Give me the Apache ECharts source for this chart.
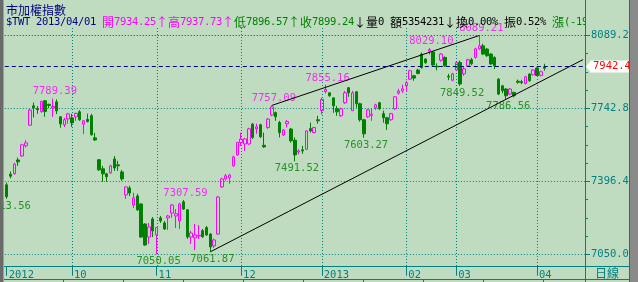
<!DOCTYPE html>
<html><head><meta charset="utf-8">
<script src="https://cdn.jsdelivr.net/npm/echarts@6/dist/echarts.min.js"></script>
<style>html,body{margin:0;padding:0;background:#c0dcc0}#c{width:638px;height:282px}</style>
</head><body><div id="c"></div>
<script>
// ---- data ----
const monthLabels = ['2012','10','11','12','2013','02','03','04'];
const monthStarts = [0,17,39,61,82,104,117,138];
const slotCount = 151;
const yTicks = [7050.0, 7396.4, 7742.8, 8089.2];
// [open, close, low, high]
const candles = [
[7380,7323,7313.56,7391],[7430,7421,7411,7443],[7433,7478,7428,7485],[7498,7489,7470,7509],
[7517,7570,7513,7575],[7565,7579,7557,7592],[7663,7735,7660,7741],[7755,7746,7700,7771],
[7742,7737,7717,7755],[7728,7776,7722,7780],[7779,7728,7703,7783],[7762,7757,7744,7766],
[7745,7752,7703,7789.39],[7774,7731,7716,7786],[7703,7669,7651,7706],[7665,7689,7655,7698],
[7693,7717,7670,7722],
[7698,7674,7655,7717],[7703,7719,7684,7723],[7727,7689,7684,7735],[7668,7684,7621,7688],
[7691,7681,7676,7718],[7708,7618,7613,7717],[7603,7593,7589,7627],[7499,7451,7446,7503],
[7456,7432,7394,7470],[7432,7418,7394,7437],[7437,7470,7432,7475],[7503,7460,7446,7517],
[7475,7470,7446,7494],[7441,7408,7399,7451],[7332,7370,7313,7372],[7365,7341,7327,7375],
[7284,7318,7270,7342],[7327,7261,7256,7337],[7289,7132,7128,7292],[7194,7094,7090,7197],
[7132,7180,7099,7199],[7218,7161,7132,7227],
[7142,7177,7050.05,7180],[7223,7209,7199,7232],[7199,7170,7166,7208],[7223,7232,7166,7237],
[7246,7284,7223,7289],[7232,7243,7175,7265],[7208,7289,7170,7295],[7299,7265,7261,7307.59],
[7261,7132,7123,7265],[7132,7151,7099,7161],[7128,7142,7070,7194],[7137,7140,7123,7189],
[7162,7133,7128,7170],[7177,7142,7137,7184],[7146,7085,7061.87,7151],[7090,7118,7080,7125],
[7146,7322,7142,7327],[7370,7408,7365,7413],[7408,7423,7399,7432],[7413,7427,7385,7432],
[7470,7513,7465,7518],[7522,7581,7518,7584],
[7581,7597,7565,7628],[7574,7598,7541,7603],[7574,7646,7570,7651],[7668,7605,7598,7674],
[7646,7655,7622,7670],[7665,7608,7603,7670],[7568,7560,7556,7628],[7652,7692,7646,7697],
[7711,7750,7706,7757.09],[7723,7703,7684,7728],[7676,7628,7605,7684],[7617,7640,7612,7645],
[7670,7680,7652,7688],[7645,7589,7580,7650],[7592,7522,7491.52,7605],[7536,7541,7525,7549],
[7546,7541,7527,7565],[7549,7636,7546,7640],[7647,7636,7628,7676],[7628,7652,7624,7655],
[7689,7684,7670,7708],
[7733,7785,7714,7793],[7823,7833,7814,7855.16],[7817,7803,7798,7817],[7793,7755,7722,7793],
[7741,7727,7708,7755],[7708,7741,7703,7746],[7770,7817,7765,7826],[7841,7817,7798,7845],
[7732,7817,7732,7826],[7822,7765,7746,7822],[7765,7689,7680,7770],[7689,7622,7603.27,7693],
[7703,7736,7698,7741],[7710,7715,7684,7741],[7746,7760,7736,7765],[7770,7741,7736,7774],
[7718,7698,7675,7732],[7698,7670,7641,7703],[7689,7718,7684,7722],[7741,7798,7736,7800],
[7815,7825,7808,7836],[7826,7836,7817,7855],
[7850,7865,7826,7874],[7882,7922,7878,7926],[7898,7887,7874,7902],[7925,7909,7905,7931],
[8001,7937,7931,8008],[7977,7960,7955,7982],[8015,8022,7998,8029.10],[8011,7949,7945,8015],
[7943,7940,7924,7957],[7972,8001,7965,8006],[7985,7945,7940,7990],[7896,7892,7877,7907],
[7877,7907,7872,7912],
[7925,7961,7920,7966],[7961,7859,7849.52,7970],[7907,7931,7898,7940],[7945,7974,7940,7979],
[7974,7955,7948,7983],[7985,8026,7979,8031],[8026,8040,8021,8089.21],[8040,8001,7996,8050],
[8025,7993,7988,8030],[8001,7954,7950,8006],[7985,7945,7930,7990],[7882,7811,7806,7887],
[7850,7827,7815,7855],[7835,7803,7786.56,7840],[7811,7835,7806,7840],[7819,7803,7795,7823],
[7872,7867,7860,7880],[7870,7865,7858,7879],[7861,7893,7857,7898],[7906,7874,7870,7910],
[7903,7925,7899,7930],
[7934.25,7899.24,7896.57,7937.73],[7900,7917,7895,7922],[7940,7934,7922,7955]
];
const peakIdx = [12,46,69,83,110,123];
const troughIdx = [0,39,53,75,93,118,130];
const upperTrend = [69,123];
const lowerTrend = [53,130];
const cursorPrice = 7942.4;
const title1 = '市加權指數';
const headerSegs = [
 ['$TWT 2013/04/01 ','#000080'],
 ['開','#ff00ff'],['7934.25','#ff00ff'],['↑','#ff00ff'],
 ['高','#ff00ff'],['7937.73','#ff00ff'],['↑','#ff00ff'],
 ['低','#008000'],['7896.57','#008000'],['↑','#008000'],
 ['收','#008000'],['7899.24','#008000'],['↓','#000000'],
 ['量','#000000'],['0 ','#000000'],['額','#000000'],['5354231','#000000'],['↓','#000000'],
 ['換','#000000'],['0.00% ','#000000'],['振','#000000'],['0.52% ','#000000'],
 ['漲','#008000'],['(-19','#008000']
];
const periodLabel = '日線';

// ---- chart ----
const teal = '#008080', bg = '#c0dcc0', mag = '#ff00ff', grn = '#008000';
const mono = "'DejaVu Sans Mono', 'Liberation Mono', monospace";
const cjk = "'Noto Sans CJK TC', 'Noto Sans CJK SC', sans-serif";
const cats = Array.from({length: slotCount}, (_, i) => 'd' + i);
const isMonth = i => monthStarts.includes(i);

const hi1 = candles[upperTrend[0]][3], hi2 = candles[upperTrend[1]][3];
const lo1 = candles[lowerTrend[0]][2], lo2 = candles[lowerTrend[1]][2];
const loSlope = (lo2 - lo1) / (lowerTrend[1] - lowerTrend[0]);
const loEndIdx = slotCount - 1;

const chart = echarts.init(document.getElementById('c'));
chart.setOption({
  animation: false,
  backgroundColor: bg,
  grid: {left: 4.8, right: 53, top: 35.5, bottom: 27.7},
  xAxis: {
    type: 'category', data: cats, boundaryGap: true, offset: 12.4,
    axisLine: {show: true, lineStyle: {color: teal}},
    axisTick: {show: true, alignWithLabel: true, length: 9, interval: (i) => isMonth(i), lineStyle: {color: teal}},
    axisLabel: {interval: (i) => isMonth(i), formatter: (v) => monthLabels[monthStarts.indexOf(cats.indexOf(v))],
      align: 'left', color: teal, fontFamily: mono, fontSize: 10.5, margin: 3, padding: [0,0,0,2]},
    splitLine: {show: false}
  },
  yAxis: {
    type: 'value', position: 'right', min: yTicks[0], max: yTicks[3], interval: yTicks[1] - yTicks[0],
    axisLine: {show: true, lineStyle: {color: teal}},
    axisTick: {show: true, length: 5, lineStyle: {color: teal}},
    minorTick: {show: true, splitNumber: 4, length: 3, lineStyle: {color: teal}},
    axisLabel: {color: teal, fontFamily: mono, fontSize: 10.5, margin: 6, formatter: v => v.toFixed(1)},
    splitLine: {show: true, lineStyle: {color: teal, type: [1, 2]}}
  },
  series: [
    {
      type: 'candlestick', data: candles, barWidth: 3, clip: false,
      itemStyle: {color: 'transparent', color0: grn, borderColor: mag, borderColor0: grn, borderWidth: 1},
      markLine: {
        silent: true, symbol: ['none', 'none'], animation: false,
        data: [
          {yAxis: cursorPrice, lineStyle: {color: '#000080', width: 1, type: [4, 3]},
           label: {show: true, position: 'end', distance: 5, formatter: p => p.value.toFixed(1),
             color: '#ff0000', backgroundColor: '#ffffff', padding: [1, 0, 0, 3], lineHeight: 11,
             fontFamily: mono, fontSize: 10.5}}
        ]
      }
    },
    {
      type: 'line', silent: true, symbol: 'none', z: 3,
      lineStyle: {color: '#000000', width: 1},
      data: [[cats[upperTrend[0]], hi1], [cats[upperTrend[1]], hi2]]
    },
    {
      type: 'line', silent: true, symbol: 'none', z: 3,
      lineStyle: {color: '#000000', width: 1},
      data: [[cats[lowerTrend[0]], lo1], [cats[loEndIdx], lo1 + loSlope * (loEndIdx - lowerTrend[0])]]
    },
    {
      type: 'scatter', symbolSize: 1, itemStyle: {color: 'transparent'}, silent: true,
      data: peakIdx.map(i => [cats[i], candles[i][3]]),
      label: {show: true, position: 'top', distance: 1, offset: [2, 0], color: mag, fontFamily: mono, fontSize: 10.5,
        formatter: p => p.value[1].toFixed(2)}
    },
    {
      type: 'scatter', symbolSize: 1, itemStyle: {color: 'transparent'}, silent: true,
      data: troughIdx.map(i => [cats[i], candles[i][2]]),
      label: {show: true, position: 'bottom', distance: 1, offset: [2, 0], color: grn, fontFamily: mono, fontSize: 10.5,
        formatter: p => p.value[1].toFixed(2)}
    }
  ]
});

// ---- decorations derived from the axes ----
const g = [];
monthStarts.slice(1).forEach(idx => {
  const x = Math.round(chart.convertToPixel({xAxisIndex: 0}, cats[idx])) + 0.5;
  g.push({type: 'line', silent: true, z: 1, shape: {x1: x, y1: 28, x2: x, y2: 266}, style: {stroke: teal, lineWidth: 1, lineDash: [1, 2]}});
});
// header
g.push({type: 'text', x: 6, y: 10, z: 20, style: {text: title1, fill: '#000080', font: '12px ' + cjk, verticalAlign: 'middle'}});
let hx = 6;
headerSegs.forEach(([t, c]) => {
  for (const ch of t) {
    const wide = ch.charCodeAt(0) > 255;
    g.push({type: 'text', x: hx, y: 22, z: 20,
      style: {text: ch, fill: c, font: (wide ? '12px ' + cjk : '10.5px ' + mono), verticalAlign: 'middle'}});
    hx += wide ? 12 : 6;
  }
});
// right panel cover for header overflow
g.push({type: 'rect', z: 30, silent: true, shape: {x: 586, y: 0, width: 43, height: 30}, style: {fill: bg}});
// frame lines
g.push({type: 'line', z: 40, silent: true, shape: {x1: 585.5, y1: 0, x2: 585.5, y2: 282}, style: {stroke: teal}});
g.push({type: 'line', z: 40, silent: true, shape: {x1: 629.5, y1: 0, x2: 629.5, y2: 282}, style: {stroke: teal}});
g.push({type: 'rect', z: 40, silent: true, shape: {x: 630, y: 0, width: 8, height: 282}, style: {fill: '#8a8a8a'}});
g.push({type: 'rect', z: 40, silent: true, shape: {x: 0, y: 0, width: 3.5, height: 282}, style: {fill: '#6a6a6a'}});
g.push({type: 'line', z: 40, silent: true, shape: {x1: 4, y1: 266.5, x2: 630, y2: 266.5}, style: {stroke: teal}});
g.push({type: 'line', z: 40, silent: true, shape: {x1: 4, y1: 279.5, x2: 630, y2: 279.5}, style: {stroke: teal}});
for (let x = 63.5; x < 585; x += 60) {
  g.push({type: 'line', z: 40, silent: true, shape: {x1: x, y1: 280, x2: x, y2: 282}, style: {stroke: teal}});
}
g.push({type: 'text', x: 607, y: 273, z: 40, style: {text: periodLabel, fill: teal, font: '12px ' + cjk, align: 'center', verticalAlign: 'middle'}});
// price marker arrow tip
const cy = chart.convertToPixel({yAxisIndex: 0}, cursorPrice);
g.push({type: 'polygon', z: 45, silent: true, shape: {points: [[586, cy], [591, cy - 6], [591, cy + 6]]}, style: {fill: '#ffffff'}});
chart.setOption({graphic: {elements: g}});
</script>
</body></html>
